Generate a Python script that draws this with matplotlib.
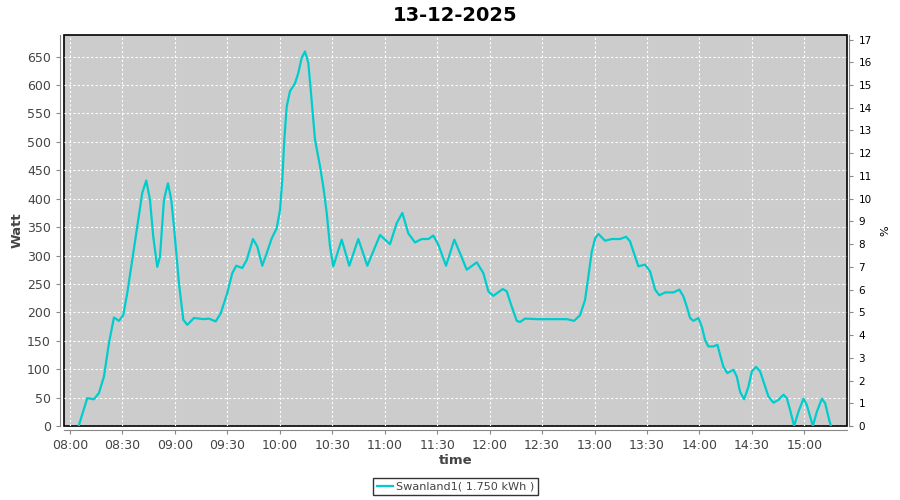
import matplotlib
matplotlib.use("Agg")
import matplotlib.pyplot as plt
import matplotlib.dates as mdates
import pandas as pd

# traced samples of the power curve
times = [
    "08:05:00", "08:09:54", "08:13:44", "08:16:35", "08:19:27", "08:22:19", "08:25:10",
    "08:28:02", "08:30:29", "08:32:47", "08:35:38", "08:38:30", "08:41:21", "08:43:39",
    "08:45:46", "08:47:39", "08:49:56", "08:51:29", "08:53:46", "08:56:03", "08:57:57",
    "08:59:29", "09:02:21", "09:04:49", "09:07:06", "09:10:56", "09:16:39", "09:19:30",
    "09:23:20", "09:26:12", "09:29:58", "09:32:50", "09:35:07", "09:38:33", "09:41:04",
    "09:44:40", "09:47:08", "09:49:59", "09:52:31", "09:55:22", "09:58:14", "10:00:07",
    "10:01:26", "10:02:35", "10:03:57", "10:05:50", "10:08:42", "10:10:35", "10:12:32",
    "10:14:25", "10:16:18", "10:17:41", "10:20:08", "10:23:00", "10:24:53", "10:26:50",
    "10:28:43", "10:30:36", "10:35:24", "10:39:45", "10:44:54", "10:50:03", "10:57:19",
    "11:03:02", "11:06:52", "11:10:04", "11:13:30", "11:17:20", "11:21:10", "11:24:57",
    "11:27:48", "11:30:40", "11:35:04", "11:39:49", "11:43:04", "11:46:54", "11:52:38",
    "11:56:24", "11:59:16", "12:02:07", "12:07:30", "12:09:47", "12:12:39", "12:15:31",
    "12:17:24", "12:20:15", "12:26:57", "12:36:27", "12:44:07", "12:48:17", "12:51:43",
    "12:54:34", "12:56:28", "12:58:24", "13:00:18", "13:02:11", "13:06:01", "13:09:51",
    "13:14:36", "13:18:01", "13:20:18", "13:22:12", "13:25:04", "13:28:53", "13:31:45",
    "13:34:37", "13:37:04", "13:40:20", "13:45:05", "13:48:31", "13:50:48", "13:52:44",
    "13:54:38", "13:56:31", "13:59:23", "14:01:19", "14:03:13", "14:05:06", "14:07:58",
    "14:10:15", "14:11:47", "14:13:41", "14:15:58", "14:19:24", "14:21:21", "14:23:14",
    "14:25:31", "14:27:59", "14:29:56", "14:32:23", "14:34:41", "14:36:58", "14:39:26",
    "14:42:17", "14:45:09", "14:48:01", "14:49:57", "14:51:50", "14:54:08", "14:56:35",
    "14:59:27", "15:01:23", "15:04:49", "15:07:07", "15:09:58", "15:11:52", "15:13:45",
    "15:15:07",
]
watts = [
    0, 49, 47, 58, 87, 146, 191,
    185, 195, 234, 292, 351, 410, 432,
    398, 333, 280, 298, 398, 427, 398,
    351, 251, 187, 178, 190, 188, 189,
    184, 198, 234, 269, 282, 278, 292,
    329, 316, 282, 304, 330, 348, 380,
    433, 504, 562, 589, 603, 621, 648,
    659, 639, 592, 504, 457, 421, 375,
    316, 281, 328, 282, 329, 282, 336,
    320, 357, 375, 339, 323, 329, 329,
    335, 319, 282, 328, 304, 275, 288,
    269, 237, 229, 241, 237, 210, 185,
    183, 189, 188, 188, 188, 185, 195,
    222, 263, 307, 330, 338, 326, 329,
    329, 333, 325, 307, 281, 284, 272,
    240, 230, 235, 235, 240, 228, 210,
    190, 185, 190, 175, 151, 140, 140,
    143, 125, 104, 93, 99, 87, 60,
    47, 69, 96, 104, 96, 75, 52,
    41, 46, 55, 49, 28, 0, 25,
    48, 37, 0, 25, 48, 40, 16,
    0,
]

day = "13-12-2025"
series_name = "Swanland1( 1.750 kWh )"
watt_ticks = list(range(0, 651, 50))
pct_ticks = list(range(0, 18))

x = pd.to_datetime(["2025-12-13 " + t for t in times])

fig = plt.figure(figsize=(9, 5), dpi=100)
ax = fig.add_axes([0.0711, 0.148, 0.8697, 0.782])

line_color = "#00CCCC"
tick_grey = "#444444"

ax.set_facecolor("#CCCCCC")
ax.plot(x, watts, color=line_color, linewidth=1.6, label=series_name)

ax.set_xlim(pd.Timestamp("2025-12-13 07:56:36"), pd.Timestamp("2025-12-13 15:24:12"))
ax.set_ylim(0, 688)
ax.set_yticks(watt_ticks)
ax.xaxis.set_major_locator(mdates.MinuteLocator(byminute=[0, 30]))
ax.xaxis.set_major_formatter(mdates.DateFormatter("%H:%M"))

ax.grid(True, color="white", linestyle=(0, (2, 2)), linewidth=0.8)
ax.set_axisbelow(True)

for s in ax.spines.values():
    s.set_visible(False)
ax.patch.set_edgecolor("black")
ax.patch.set_linewidth(1.2)

ax.spines["left"].set_visible(True)
ax.spines["left"].set_position(("outward", 3))
ax.spines["left"].set_color("#888888")
ax.spines["bottom"].set_visible(True)
ax.spines["bottom"].set_position(("outward", 3))
ax.spines["bottom"].set_color("#888888")

ax.tick_params(axis="both", colors="#888888", labelcolor=tick_grey,
               labelsize=9, length=3, width=0.8)

ax.set_ylabel("Watt", fontsize=9.5, color=tick_grey, fontweight="bold")
ax.yaxis.set_label_coords(-0.051, 0.5)
ax.set_xlabel("time", fontsize=9.5, color=tick_grey, fontweight="bold")
ax.xaxis.set_label_coords(0.5, -0.071)
ax.set_title(day, fontsize=14, fontweight="bold", pad=10)

ax2 = ax.twinx()
ax2.set_ylim(0, 17.2)
ax2.set_yticks(pct_ticks)
for s in ax2.spines.values():
    s.set_visible(False)
ax2.spines["right"].set_visible(True)
ax2.spines["right"].set_position(("outward", 2))
ax2.spines["right"].set_color("#888888")
ax2.tick_params(axis="y", colors="#888888", labelcolor="black", labelsize=7.5,
                length=3, width=0.8)
ax2.set_ylabel("%", fontsize=8, color="black", labelpad=6)

leg = ax.legend(loc="upper center", bbox_to_anchor=(0.5, -0.132), ncol=1,
                fontsize=8.1, frameon=True, fancybox=False, handlelength=1.4,
                handletextpad=0.25, borderpad=0.35, borderaxespad=0)
leg.get_frame().set_edgecolor("black")
leg.get_frame().set_linewidth(1.0)
for t in leg.get_texts():
    t.set_color(tick_grey)

fig.savefig("out.png", dpi=100, facecolor="white")
